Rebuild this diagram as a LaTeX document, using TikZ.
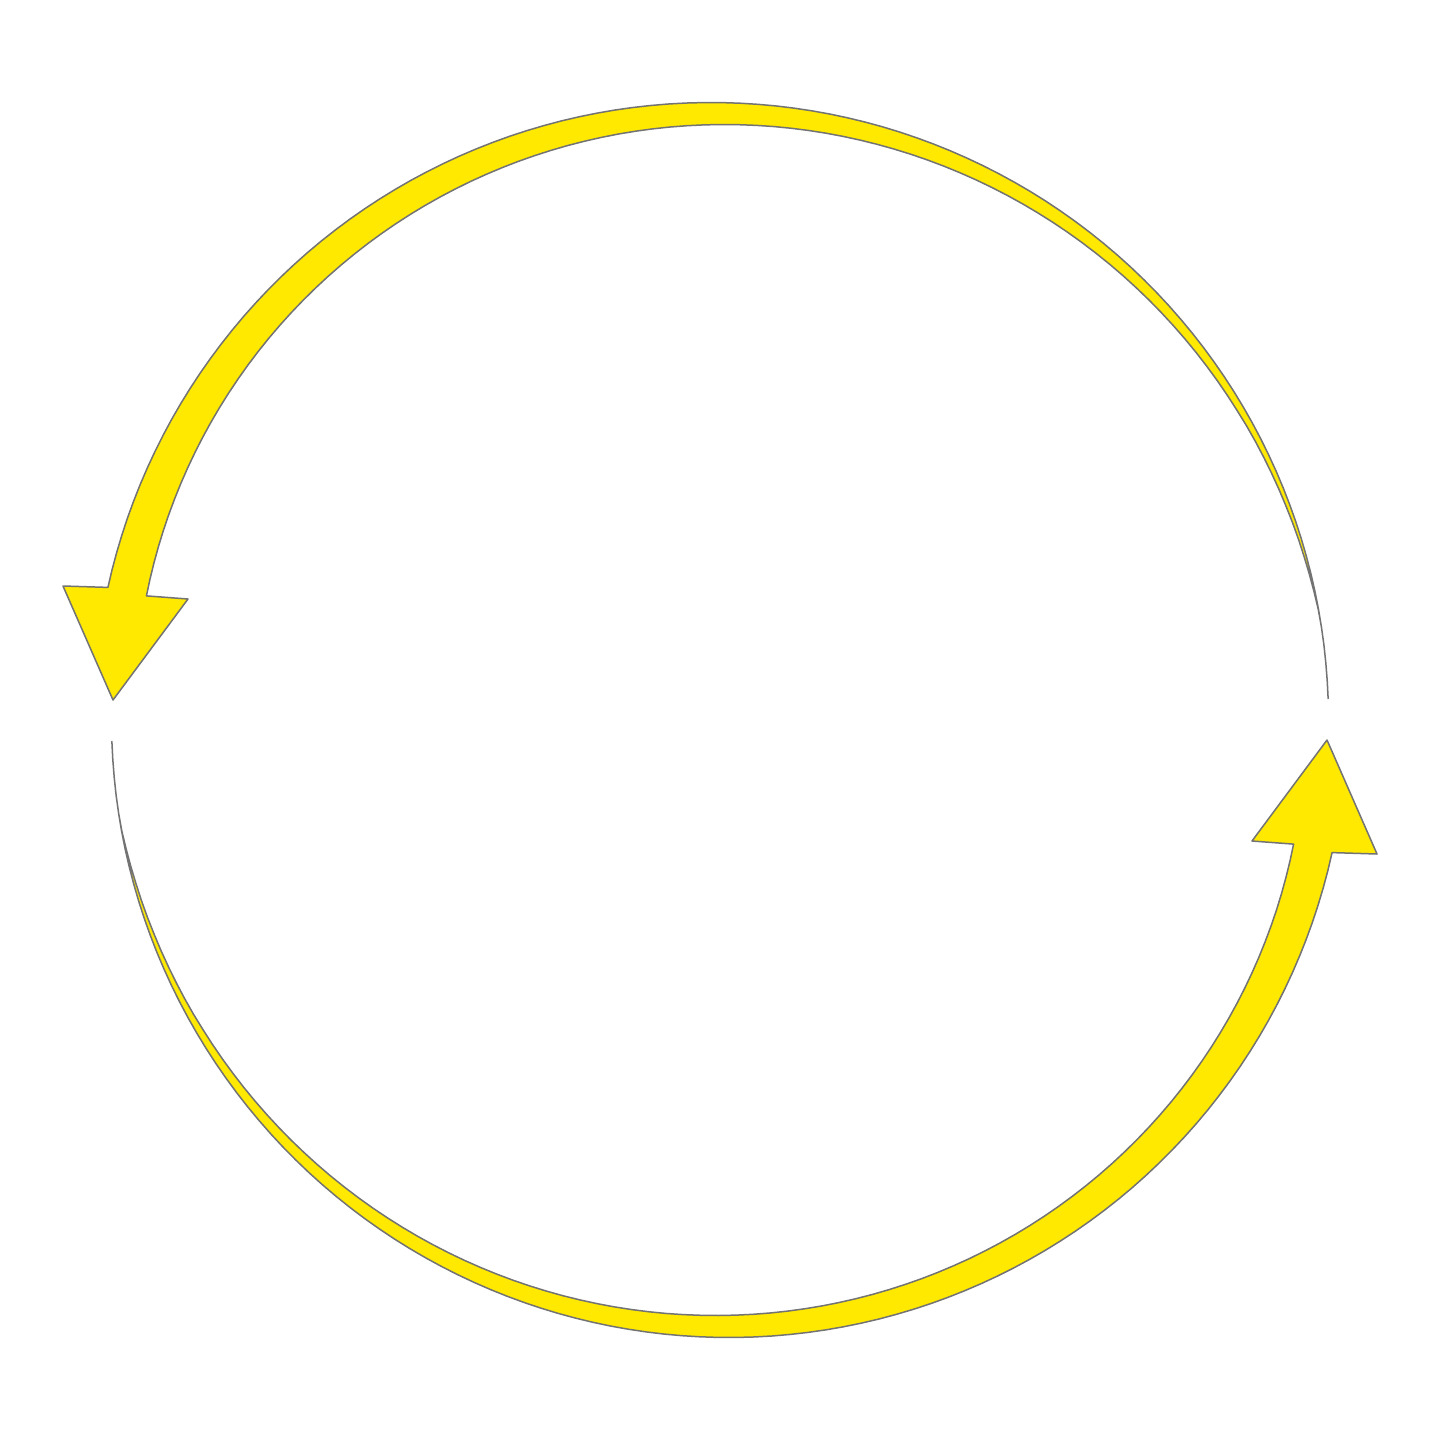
\documentclass[tikz,border=0pt]{standalone}
\definecolor{arrowyellow}{RGB}{255,233,0}
\begin{document}
\begin{tikzpicture}[x=0.5pt,y=-0.5pt]
\tikzset{arrowband/.style={fill=arrowyellow,draw=black!55,line width=0.75pt,line join=round}}
\fill[white] (0,0) rectangle (1440,1440);
\useasboundingbox (0,0) rectangle (1440,1440);
\def\crescentpath{%
  \path[arrowband]
    plot[domain=2:167.6,samples=100] ({711+617.5*cos(\x)},{720-617.5*sin(\x)})
    -- (63,586) -- (113,700) -- (188,599)
    -- plot[domain=167.6:2,samples=100]
      ({711+(617.5-39.5*pow(max(\x-10,0.01)/158,0.85))*cos(\x)},
       {720-(617.5-39.5*pow(max(\x-10,0.01)/158,0.85))*sin(\x)})
    -- cycle;}
\crescentpath
\begin{scope}[rotate around={180:(720,720)}]
  \crescentpath
\end{scope}
\end{tikzpicture}
\end{document}
